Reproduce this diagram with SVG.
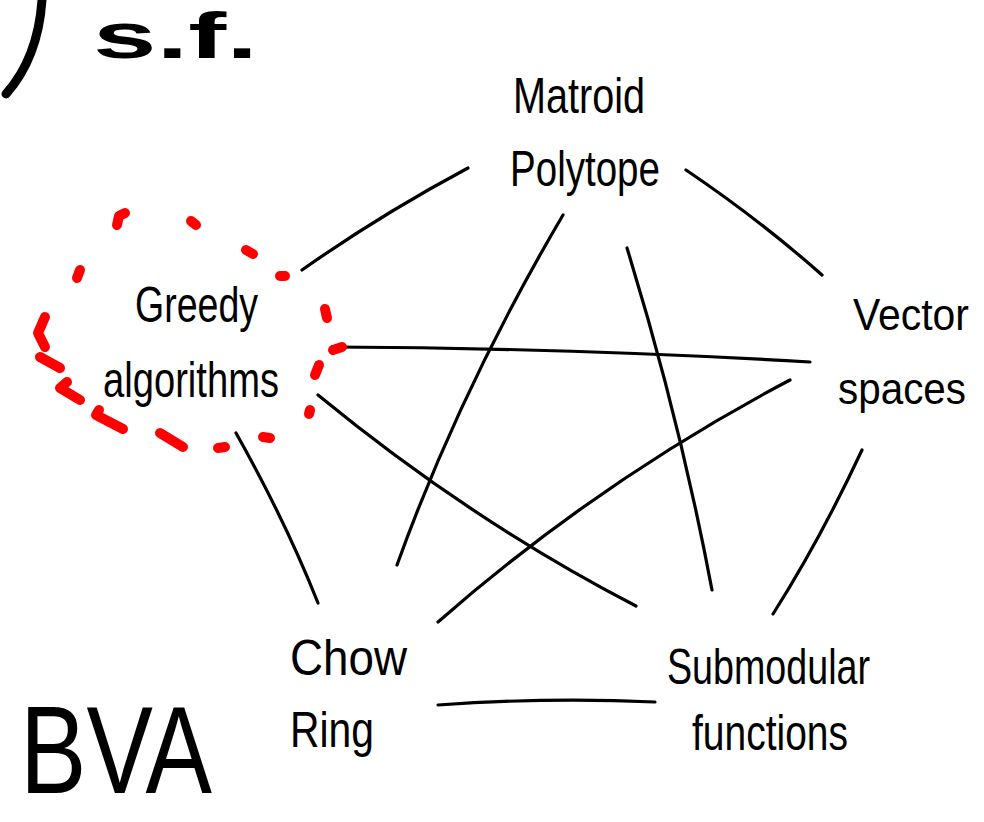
<svg xmlns="http://www.w3.org/2000/svg" width="984" height="822" viewBox="0 0 984 822">
<style>
.lbl{font-family:"Liberation Sans","DejaVu Sans",sans-serif;font-size:50px;fill:#000;}
.big{font-family:"Liberation Sans","DejaVu Sans",sans-serif;fill:#000;}
.edge{fill:none;stroke:#000;stroke-width:3.2;stroke-linecap:round;}
.red{fill:none;stroke:#f00;stroke-width:10;stroke-linecap:round;stroke-linejoin:round;}
</style>
<rect width="984" height="822" fill="#fff"/>
<g id="corner-notes">
<path d="M42 0 Q38 58 6 94" fill="none" stroke="#000" stroke-width="9" stroke-linecap="round"/>
<text class="big" x="93" y="58" font-size="64" font-weight="bold" textLength="165" lengthAdjust="spacingAndGlyphs">s.f.</text>
<text class="big" x="20" y="793" font-size="125" textLength="192" lengthAdjust="spacingAndGlyphs">BVA</text>
</g>
<g id="connectors">
<path class="edge" d="M468 168 Q380 215 302 270"/>
<path class="edge" d="M686 170 Q760 220 822 275"/>
<path class="edge" d="M563 215 Q460 390 397 565"/>
<path class="edge" d="M627 248 Q680 420 712 590"/>
<path class="edge" d="M332 347 Q570 348 810 362"/>
<path class="edge" d="M318 395 Q470 520 636 606"/>
<path class="edge" d="M236 433 Q285 520 318 603"/>
<path class="edge" d="M790 380 Q600 480 438 622"/>
<path class="edge" d="M862 450 Q820 540 773 614"/>
<path class="edge" d="M438 705 Q550 697 655 702"/>
</g>
<g id="highlight">
<path class="red" d="M117 225 L119 216 L125 213"/>
<path class="red" d="M191 221 L196 225"/>
<path class="red" d="M246 250 L253 254"/>
<path class="red" d="M280 276 L285 276"/>
<path class="red" d="M325 309 L327 318"/>
<path class="red" d="M333 350 L342 347"/>
<path class="red" d="M319 365 L315 375"/>
<path class="red" d="M310 410 L309 414"/>
<path class="red" d="M263 437 L270 438"/>
<path class="red" d="M218 448 L225 447"/>
<path class="red" d="M160 433 L183 447"/>
<path class="red" d="M99 410 L96 415 L123 429"/>
<path class="red" d="M67 382 L60 388 L80 400"/>
<path class="red" d="M40 357 L60 368"/>
<path class="red" d="M45 317 L38 333 L45 347"/>
<path class="red" d="M80 270 L77 278"/>
</g>
<g id="node-matroid">
<text class="lbl" x="513" y="113" textLength="132" lengthAdjust="spacingAndGlyphs">Matroid</text>
<text class="lbl" x="510" y="186" textLength="150" lengthAdjust="spacingAndGlyphs">Polytope</text>
</g>
<g id="node-greedy">
<text class="lbl" x="135" y="322" textLength="123" lengthAdjust="spacingAndGlyphs">Greedy</text>
<text class="lbl" x="103" y="397" textLength="176" lengthAdjust="spacingAndGlyphs">algorithms</text>
</g>
<g id="node-vector">
<text class="lbl" x="853" y="330" font-size="44" style="font-size:44px" textLength="116" lengthAdjust="spacingAndGlyphs">Vector</text>
<text class="lbl" x="838" y="404" font-size="44" style="font-size:44px" textLength="128" lengthAdjust="spacingAndGlyphs">spaces</text>
</g>
<g id="node-chow">
<text class="lbl" x="290" y="675" textLength="117" lengthAdjust="spacingAndGlyphs">Chow</text>
<text class="lbl" x="290" y="747" textLength="84" lengthAdjust="spacingAndGlyphs">Ring</text>
</g>
<g id="node-submodular">
<text class="lbl" x="667" y="684" textLength="203" lengthAdjust="spacingAndGlyphs">Submodular</text>
<text class="lbl" x="692" y="750" textLength="156" lengthAdjust="spacingAndGlyphs">functions</text>
</g>
</svg>
